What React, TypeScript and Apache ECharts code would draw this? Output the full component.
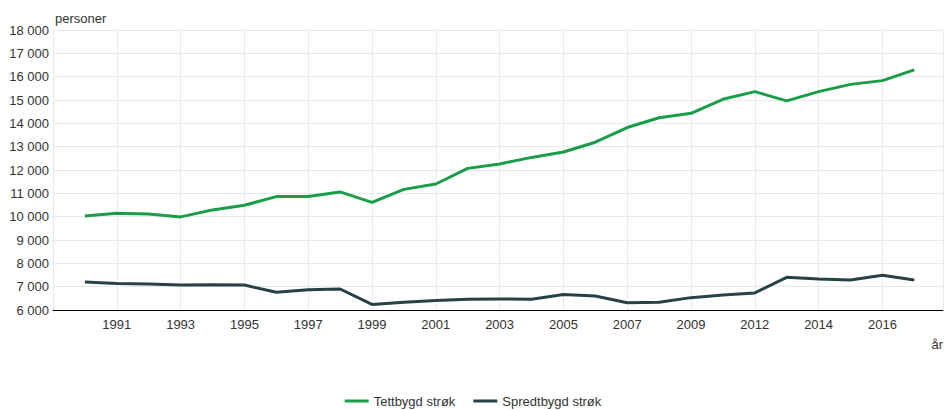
import React, { useEffect, useRef } from "react";
import * as echarts from "echarts";

const years: string[] = [
  "1990", "1991", "1992", "1993", "1994", "1995", "1996", "1997", "1998", "1999",
  "2000", "2001", "2002", "2003", "2004", "2005", "2006", "2007", "2008", "2009",
  "2010", "2012", "2013", "2014", "2015", "2016", "2017",
];

const tettbygd: number[] = [
  10030, 10150, 10110, 9990, 10290, 10490, 10860, 10860, 11060, 10610,
  11170, 11400, 12070, 12260, 12540, 12770, 13190, 13820, 14240, 14430,
  15030, 15360, 14960, 15360, 15670, 15830, 16290,
];

const spredtbygd: number[] = [
  7200, 7140, 7110, 7070, 7080, 7070, 6760, 6870, 6900, 6240,
  6330, 6410, 6460, 6470, 6460, 6660, 6600, 6310, 6330, 6530,
  6640, 6730, 7400, 7330, 7290, 7490, 7290,
];

const seriesNames: string[] = ["Tettbygd strøk", "Spredtbygd strøk"];
const yAxisName = "personer";
const xAxisName = "år";

const FONT = "'Liberation Sans', Arial, sans-serif";
const TEXT = "#333333";

export default function App() {
  const ref = useRef<HTMLDivElement>(null);

  useEffect(() => {
    if (!ref.current) return;
    const chart = echarts.init(ref.current, undefined, { renderer: "svg" });
    const fmt = (v: number) =>
      String(v).replace(/\B(?=(\d{3})+(?!\d))/g, " ");
    chart.setOption({
      animation: false,
      textStyle: { fontFamily: FONT },
      grid: { left: 53, top: 30, right: 0, bottom: 100, containLabel: false },
      legend: {
        left: "center",
        top: 394,
        padding: 0,
        icon: "rect",
        itemWidth: 24,
        itemHeight: 3,
        itemGap: 18,
        textStyle: { fontFamily: FONT, fontSize: 13, color: TEXT, lineHeight: 14 },
        data: seriesNames,
      },
      xAxis: {
        type: "value",
        min: -1,
        max: 26.9,
        interval: 2,
        axisLine: { show: true, lineStyle: { color: "#000000", width: 1 } },
        axisTick: { show: false },
        splitLine: { show: true, lineStyle: { color: "#e6eaea", width: 1 } },
        axisLabel: {
          margin: 8,
          fontSize: 13,
          color: TEXT,
          fontFamily: FONT,
          showMinLabel: true,
          showMaxLabel: true,
          formatter: (v: number) => {
            const i = Math.round(v);
            if (Math.abs(v - i) > 1e-6 || i < 0 || i >= years.length) return "";
            return years[i];
          },
        },
      },
      yAxis: {
        type: "value",
        min: 6000,
        max: 18000,
        interval: 1000,
        axisLine: { show: false },
        axisTick: { show: false },
        splitLine: { show: true, lineStyle: { color: "#e6eaea", width: 1 } },
        axisLabel: {
          margin: 4,
          fontSize: 13,
          color: TEXT,
          fontFamily: FONT,
          formatter: (v: number) => fmt(v),
        },
      },
      graphic: [
        {
          type: "text",
          left: 55,
          top: 12,
          style: { text: yAxisName, fontSize: 13, fill: TEXT, fontFamily: FONT },
        },
        {
          type: "text",
          right: 3,
          top: 338,
          style: { text: xAxisName, fontSize: 13, fill: TEXT, fontFamily: FONT },
        },
      ],
      series: [
        {
          name: seriesNames[0],
          type: "line",
          data: tettbygd.map((v, i) => [i, v]),
          showSymbol: false,
          symbol: "none",
          lineStyle: { color: "#1a9d49", width: 3 },
          itemStyle: { color: "#1a9d49" },
        },
        {
          name: seriesNames[1],
          type: "line",
          data: spredtbygd.map((v, i) => [i, v]),
          showSymbol: false,
          symbol: "none",
          lineStyle: { color: "#274247", width: 3 },
          itemStyle: { color: "#274247" },
        },
      ],
    });
    return () => chart.dispose();
  }, []);

  return (
    <div
      ref={ref}
      style={{ position: "absolute", left: 0, top: 0, width: 946, height: 410 }}
    />
  );
}
